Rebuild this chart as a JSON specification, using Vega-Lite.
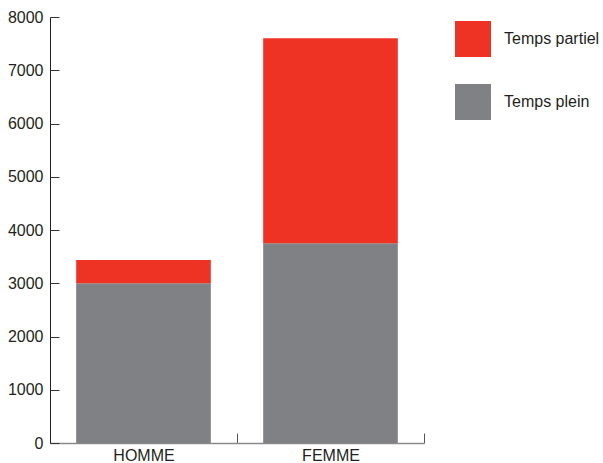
{
  "$schema": "https://vega.github.io/schema/vega-lite/v6.json",
  "autosize": "none",
  "width": 374,
  "height": 426,
  "padding": {"left": 50, "top": 17, "right": 179, "bottom": 20},
  "background": "white",
  "config": {
    "view": {"stroke": null},
    "font": "Liberation Sans",
    "axis": {"grid": false, "labelFont": "Liberation Sans", "labelFontSize": 16, "labelColor": "#231f20", "title": null}
  },
  "data": {
    "values": [
      {"sexe": "HOMME", "type": "Temps plein", "effectif": 3000},
      {"sexe": "HOMME", "type": "Temps partiel", "effectif": 435},
      {"sexe": "FEMME", "type": "Temps plein", "effectif": 3750},
      {"sexe": "FEMME", "type": "Temps partiel", "effectif": 3850}
    ]
  },
  "mark": {"type": "bar", "width": {"band": 0.72}},
  "encoding": {
    "x": {
      "field": "sexe",
      "type": "nominal",
      "sort": ["HOMME", "FEMME"],
      "scale": {"paddingInner": 0, "paddingOuter": 0},
      "axis": {
        "labelAngle": 0,
        "tickBand": "extent",
        "tickSize": -10,
        "tickColor": "#555555",
        "domainColor": "#8a8a8a",
        "domainWidth": 1.5,
        "labelPadding": 14
      }
    },
    "y": {
      "field": "effectif",
      "type": "quantitative",
      "stack": "zero",
      "scale": {"domain": [0, 8000], "nice": false},
      "axis": {
        "values": [0, 1000, 2000, 3000, 4000, 5000, 6000, 7000, 8000],
        "format": "d",
        "tickSize": -9,
        "tickColor": "#333333",
        "domainColor": "#231f20",
        "labelPadding": 16
      }
    },
    "color": {
      "field": "type",
      "type": "nominal",
      "scale": {"domain": ["Temps partiel", "Temps plein"], "range": ["#ee3325", "#808184"]},
      "legend": {
        "title": null,
        "orient": "none",
        "legendX": 405,
        "legendY": 4,
        "padding": 0,
        "symbolType": "square",
        "symbolSize": 1296,
        "symbolStrokeWidth": 0,
        "symbolOpacity": 1,
        "rowPadding": 27,
        "labelOffset": 13,
        "labelFont": "Liberation Sans",
        "labelFontSize": 16,
        "labelColor": "#231f20"
      }
    },
    "order": {"field": "type", "sort": "descending"}
  }
}
